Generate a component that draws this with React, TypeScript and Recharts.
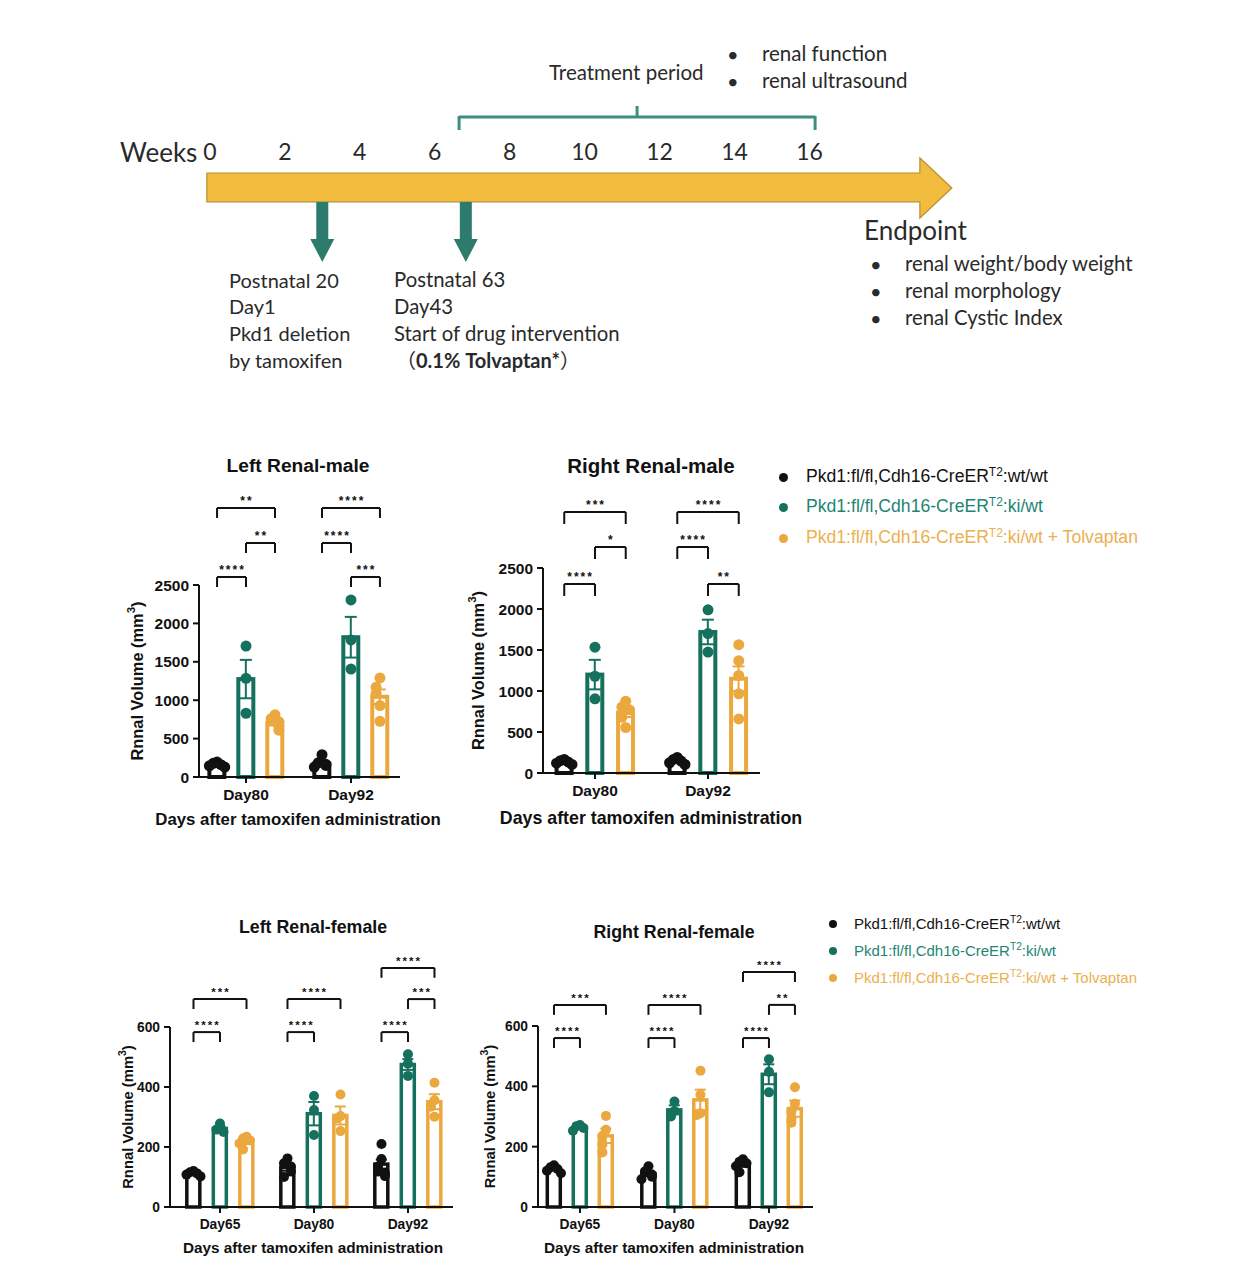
import React from "react";
import { Bar, ComposedChart, ErrorBar, ReferenceArea, ReferenceLine, Scatter, XAxis, YAxis } from "recharts";

const ARIAL = '"Liberation Sans", Arial, Helvetica, sans-serif';
const LATO = 'Lato, "Open Sans", "Noto Sans CJK SC", sans-serif';

const INK = "#111111";
const TEAL = "#15705E";
const GOLD = "#EBA83E";
const groupColors = [INK, TEAL, GOLD];
const legendColors = ["#111111", "#1E8573", "#EBB04F"];

// ---- timeline ----
const weekTicks = [0, 2, 4, 6, 8, 10, 12, 14, 16];
const arrowWeeks = [-0.08, 19.8];
const dropWeeks = [3.0, 6.83];
const treatmentWeeks = [6.65, 16.15];
const monitorItems = ["renal function", "renal ultrasound"];
const endpointItems = ["renal weight/body weight", "renal morphology", "renal Cystic Index"];
const deletionLines = ["Postnatal 20", "Day1", "Pkd1 deletion", "by tamoxifen"];
const drugLines = ["Postnatal 63", "Day43", "Start of drug intervention"];

// ---- groups ----
const groupSuffix = [":wt/wt", ":ki/wt", ":ki/wt + Tolvaptan"];
const maleDays = ["Day80", "Day92"];
const femaleDays = ["Day65", "Day80", "Day92"];

// rows: wt/wt, ki/wt, ki/wt + Tolvaptan ; columns: days
// Left Renal-male
const lmMean = [[160, 175], [1275, 1820], [705, 1045]];
const lmSem = [[12, 28], [250, 265], [35, 95]];
const lmDots = [
  [[195, 178, 160, 145, 130], [290, 185, 165, 150, 130]],
  [[1705, 1285, 830], [2305, 1785, 1405]],
  [[810, 760, 720, 660, 610], [1290, 1170, 1090, 930, 725]],
];
const lmStars = [[0, 0, 1, 0, "****"], [0, 1, 2, 1, "**"], [0, 0, 2, 2, "**"], [1, 1, 2, 0, "***"], [1, 0, 1, 1, "****"], [1, 0, 2, 2, "****"]];
const lmLevels = [2604, 3047, 3503];

// Right Renal-male
const rmMean = [[130, 145], [1200, 1720], [737, 1150]];
const rmSem = [[10, 15], [180, 150], [55, 150]];
const rmDots = [
  [[165, 150, 135, 120, 105], [190, 165, 145, 125, 105]],
  [[1535, 1180, 905], [1990, 1700, 1475]],
  [[875, 805, 770, 680, 555], [1565, 1370, 1190, 965, 660]],
];
const rmStars = [[0, 0, 1, 0, "****"], [0, 1, 2, 1, "*"], [0, 0, 2, 2, "***"], [1, 1, 2, 0, "**"], [1, 0, 1, 1, "****"], [1, 0, 2, 2, "****"]];
const rmLevels = [2305, 2756, 3183];

// Left Renal-female
const lfMean = [[112, 132, 143], [262, 311, 475], [218, 305, 351]];
const lfSem = [[4, 11, 15], [8, 39, 18], [8, 30, 25]];
const lfDots = [
  [[120, 116, 112, 108, 102], [162, 146, 135, 118, 100], [210, 160, 135, 118, 113, 103]],
  [[278, 258, 250], [370, 323, 240], [509, 478, 437]],
  [[234, 228, 222, 212, 192], [375, 303, 296, 253], [414, 356, 334, 301]],
];
const lfStars = [[0, 0, 1, 0, "****"], [0, 0, 2, 1, "***"], [1, 0, 1, 0, "****"], [1, 0, 2, 1, "****"], [2, 0, 1, 0, "****"], [2, 1, 2, 1, "***"], [2, 0, 2, 2, "****"]];
const lfLevels = [583, 693, 797];

// Right Renal-female
const rfMean = [[125, 110, 141], [264, 322, 440], [236, 355, 326]];
const rfSem = [[4, 8, 8], [5, 15, 33], [24, 34, 27]];
const rfDots = [
  [[138, 132, 126, 120, 112], [135, 118, 108, 100, 92], [158, 150, 145, 135, 115]],
  [[272, 268, 262, 253], [350, 318, 300], [490, 448, 380]],
  [[302, 256, 236, 207, 181], [452, 372, 311, 305], [397, 342, 317, 290, 279]],
];
const rfStars = [[0, 0, 1, 0, "****"], [0, 0, 2, 1, "***"], [1, 0, 1, 0, "****"], [1, 0, 2, 1, "****"], [2, 0, 1, 0, "****"], [2, 1, 2, 1, "**"], [2, 0, 2, 2, "****"]];
const rfLevels = [560, 670, 779];

function Txt({ x, cy, size, children, weight = 400, color = "#2a2a2a", family = LATO }: any) {
  return (
    <div style={{ position: "absolute", left: x, top: cy - size * 0.62, fontFamily: family, fontSize: size, lineHeight: `${size * 1.24}px`, fontWeight: weight, color, whiteSpace: "nowrap" }}>
      {children}
    </div>
  );
}

const ArrowBody = (p: any) => {
  const { x, y, width: w, height: h } = p;
  const head = 32;
  const bt = y + h * 0.25;
  const bb = y + h * 0.73;
  const d = `M${x},${bt} L${x + w - head},${bt} L${x + w - head},${y} L${x + w},${y + h / 2} L${x + w - head},${y + h} L${x + w - head},${bb} L${x},${bb} Z`;
  return <path d={d} fill="#F2BC3E" stroke="#B8902F" strokeWidth={1.2} />;
};

const DropArrow = (p: any) => {
  const { x1, y1, y2 } = p;
  const ys = y2 - 23;
  const d = `M${x1 - 6},${y1} L${x1 + 6},${y1} L${x1 + 6},${ys} L${x1 + 12},${ys} L${x1},${y2} L${x1 - 12},${ys} L${x1 - 6},${ys} Z`;
  return <path d={d} fill="#2C7B6C" />;
};

const WeekTick = (p: any) => (
  <text x={p.x} y={160} textAnchor="middle" fontFamily={LATO} fontSize={23} fill="#2a2a2a">{p.payload.value}</text>
);

function Timeline() {
  const mid = (treatmentWeeks[0] + treatmentWeeks[1]) / 2;
  const bracket = { stroke: "#3E8E80", strokeWidth: 3, ifOverflow: "visible" as const };
  return (
    <div style={{ position: "absolute", left: 0, top: 0 }}>
      <ComposedChart width={1256} height={400} data={weekTicks.map((w) => ({ w }))} margin={{ top: 0, right: 0, bottom: 0, left: 0 }}>
        <XAxis type="number" dataKey="w" orientation="top" domain={[-5.6, 27.915]} allowDataOverflow ticks={weekTicks} interval={0} height={20} axisLine={false} tickLine={false} tick={WeekTick} />
        <YAxis type="number" hide domain={[20, 400]} reversed allowDataOverflow />
        <ReferenceArea x1={arrowWeeks[0]} x2={arrowWeeks[1]} y1={158} y2={218} ifOverflow="visible" shape={ArrowBody} />
        {dropWeeks.map((w) => (
          <ReferenceLine key={w} segment={[{ x: w, y: 202 }, { x: w, y: 262 }]} ifOverflow="visible" shape={DropArrow} />
        ))}
        <ReferenceLine segment={[{ x: treatmentWeeks[0], y: 117 }, { x: treatmentWeeks[1], y: 117 }]} {...bracket} />
        <ReferenceLine segment={[{ x: treatmentWeeks[0], y: 116 }, { x: treatmentWeeks[0], y: 130 }]} {...bracket} />
        <ReferenceLine segment={[{ x: treatmentWeeks[1], y: 116 }, { x: treatmentWeeks[1], y: 130 }]} {...bracket} />
        <ReferenceLine segment={[{ x: mid, y: 106 }, { x: mid, y: 118 }]} {...bracket} />
      </ComposedChart>
      <Txt x={120} cy={152} size={26}>Weeks</Txt>
      <Txt x={549} cy={73} size={20.5}>Treatment period</Txt>
      {monitorItems.map((t, i) => (
        <React.Fragment key={t}>
          <Txt x={727} cy={54 + i * 27} size={20}>•</Txt>
          <Txt x={762} cy={54 + i * 27} size={20.5}>{t}</Txt>
        </React.Fragment>
      ))}
      <Txt x={864} cy={230} size={26}>Endpoint</Txt>
      {endpointItems.map((t, i) => (
        <React.Fragment key={t}>
          <Txt x={870} cy={264 + i * 27} size={20}>•</Txt>
          <Txt x={905} cy={264 + i * 27} size={20.3}>{t}</Txt>
        </React.Fragment>
      ))}
      {deletionLines.map((t, i) => (
        <Txt key={t} x={229} cy={280 + i * 26.7} size={20}>{t}</Txt>
      ))}
      {drugLines.map((t, i) => (
        <Txt key={t} x={394} cy={280 + i * 26.7} size={20.3}>{t}</Txt>
      ))}
      <Txt x={396} cy={360} size={20}>（<b>0.1% Tolvaptan*</b>）</Txt>
    </div>
  );
}

type PanelCfg = {
  plot: { left: number; right: number; top: number; bottom: number };
  xDomain: [number, number];
  yTicks: number[];
  days: string[];
  mean: number[][];
  sem: number[][];
  dots: number[][][];
  stars: (number | string)[][];
  levels: number[];
  leg: number;
  gap: number;
  barSize: number;
  barStroke: number;
  dotR: number;
  cap: number;
  tickFont: number;
  title: string;
  titleX: number;
  titleY: number;
  titleSize: number;
  xTitleY: number;
  xTitleSize: number;
  yTitleX: number;
  yTitleSize: number;
  starSize: number;
};

function RenalPanel(c: PanelCfg) {
  const padL = 110, padT = 170, padR = 20, padB = 40;
  const boxLeft = c.plot.left - padL;
  const boxTop = c.plot.top - padT;
  const width = c.plot.right - c.plot.left + padL + padR;
  const height = c.plot.bottom - c.plot.top + padT + padB;
  const yTop = c.yTicks[c.yTicks.length - 1];
  const pxPerX = (c.plot.right - c.plot.left) / (c.xDomain[1] - c.xDomain[0]);
  const pxPerY = (c.plot.bottom - c.plot.top) / yTop;
  const barX = (d: number, g: number) => d + 1 + (g - 1) * c.gap;

  const rows = c.days.flatMap((_, d) =>
    [0, 1, 2].map((g) => ({ x: barX(d, g), y: c.mean[g][d], g, [`e${g}`]: c.sem[g][d] }))
  );
  // spread only the dots that would overlap, the way a scatter dot plot does
  const dotSets = [0, 1, 2].map((g) =>
    c.days.flatMap((_, d) => {
      const vals = c.dots[g][d];
      return vals.map((v, i) => {
        const k = vals.slice(0, i).filter((u) => Math.abs(u - v) * pxPerY < c.dotR * 1.8).length;
        const shift = k === 0 ? 0 : (k % 2 ? -1 : 1) * Math.ceil(k / 2) * c.dotR * 0.7;
        return { x: barX(d, g) + shift / pxPerX, y: v };
      });
    })
  );
  const yTitleCx = c.yTitleX - boxLeft;
  const yTitleCy = (c.plot.top + c.plot.bottom) / 2 - boxTop;
  const line = { stroke: INK, strokeWidth: 2, ifOverflow: "visible" as const };

  const OpenBar = (p: any) => {
    const cx = p.x + (p.width || 0) / 2;
    const color = groupColors[p.payload?.g ?? 0];
    return (
      <rect x={cx - c.barSize / 2} y={p.y} width={c.barSize} height={Math.max(p.height, 0)} fill="#ffffff" stroke={color} strokeWidth={c.barStroke} />
    );
  };

  return (
    <>
      <div style={{ position: "absolute", left: c.titleX, top: c.titleY, transform: "translate(-50%, -50%)", fontFamily: ARIAL, fontWeight: 700, fontSize: c.titleSize, color: INK, whiteSpace: "nowrap" }}>
        {c.title}
      </div>
      <div style={{ position: "absolute", left: c.titleX, top: c.xTitleY, transform: "translate(-50%, -50%)", fontFamily: ARIAL, fontWeight: 700, fontSize: c.xTitleSize, color: INK, whiteSpace: "nowrap" }}>
        Days after tamoxifen administration
      </div>
      <div style={{ position: "absolute", left: boxLeft, top: boxTop }}>
        <ComposedChart width={width} height={height} data={rows} margin={{ top: padT, right: padR, bottom: 0, left: padL - 60 }}>
          <XAxis
            type="number"
            dataKey="x"
            domain={c.xDomain}
            allowDataOverflow
            ticks={c.days.map((_, i) => i + 1)}
            interval={0}
            tickFormatter={(v: number) => c.days[v - 1]}
            height={padB}
            axisLine={{ stroke: INK, strokeWidth: 2 }}
            tickLine={{ stroke: INK, strokeWidth: 2 }}
            tickSize={6}
            tickMargin={6}
            tick={{ fill: INK, fontSize: c.tickFont, fontWeight: 700, fontFamily: ARIAL }}
          />
          <YAxis
            type="number"
            domain={[0, yTop]}
            ticks={c.yTicks}
            interval={0}
            width={60}
            axisLine={{ stroke: INK, strokeWidth: 2 }}
            tickLine={{ stroke: INK, strokeWidth: 2 }}
            tickSize={6}
            tickMargin={4}
            tick={{ fill: INK, fontSize: c.tickFont, fontWeight: 700, fontFamily: ARIAL }}
            label={{
              content: () => (
                <text x={yTitleCx} y={yTitleCy} transform={`rotate(-90 ${yTitleCx} ${yTitleCy})`} textAnchor="middle" dominantBaseline="central" fontFamily={ARIAL} fontWeight={700} fontSize={c.yTitleSize} fill={INK}>
                  Rnnal Volume (mm<tspan baselineShift="super" fontSize="70%">3</tspan>)
                </text>
              ),
            }}
          />
          <Bar dataKey="y" barSize={c.barSize} isAnimationActive={false} shape={OpenBar}>
            {[0, 1, 2].map((g) => (
              <ErrorBar key={g} dataKey={`e${g}`} direction="y" width={c.cap} stroke={groupColors[g]} strokeWidth={2} isAnimationActive={false} />
            ))}
          </Bar>
          {dotSets.map((set, g) => (
            <Scatter
              key={g}
              data={set}
              dataKey="y"
              fill={groupColors[g]}
              isAnimationActive={false}
              shape={(p: any) => <circle cx={p.cx} cy={p.cy} r={c.dotR} fill={groupColors[g]} />}
            />
          ))}
          {c.stars.flatMap((s, k) => {
            const [d, g1, g2, lvl, txt] = s as [number, number, number, number, string];
            const xa = barX(d, g1);
            const xb = barX(d, g2);
            const yv = c.levels[lvl];
            const yl = yv - c.leg;
            return [
              <ReferenceLine
                key={`h${k}`}
                segment={[{ x: xa, y: yv }, { x: xb, y: yv }]}
                {...line}
                label={{
                  content: (p: any) => {
                    const vb = p.viewBox || { x: 0, y: 0, width: 0 };
                    return (
                      <text x={vb.x + vb.width / 2 + 1} y={vb.y - 3} textAnchor="middle" fontFamily={ARIAL} fontWeight={700} fontSize={c.starSize} letterSpacing={2} fill={INK}>
                        {txt}
                      </text>
                    );
                  },
                }}
              />,
              <ReferenceLine key={`a${k}`} segment={[{ x: xa, y: yv }, { x: xa, y: yl }]} {...line} />,
              <ReferenceLine key={`b${k}`} segment={[{ x: xb, y: yv }, { x: xb, y: yl }]} {...line} />,
            ];
          })}
        </ComposedChart>
      </div>
    </>
  );
}

function GroupLegend({ dotX, textX, rows, size, dot }: { dotX: number; textX: number; rows: number[]; size: number; dot: number }) {
  return (
    <>
      {groupSuffix.map((s, i) => (
        <React.Fragment key={s}>
          <div style={{ position: "absolute", left: dotX - dot / 2, top: rows[i] - dot / 2, width: dot, height: dot, borderRadius: "50%", background: groupColors[i] }} />
          <div style={{ position: "absolute", left: textX, top: rows[i] - size * 0.62, fontFamily: ARIAL, fontSize: size, lineHeight: `${size * 1.24}px`, color: legendColors[i], whiteSpace: "nowrap" }}>
            Pkd1:fl/fl,Cdh16-CreER<span style={{ fontSize: "0.68em", position: "relative", top: "-0.55em" }}>T2</span>{s}
          </div>
        </React.Fragment>
      ))}
    </>
  );
}

export default function App() {
  const male = { yTicks: [0, 500, 1000, 1500, 2000, 2500], days: maleDays, barSize: 15, barStroke: 4, dotR: 5.5, cap: 6, tickFont: 15.5, yTitleSize: 16.4, starSize: 12 };
  const female = { yTicks: [0, 200, 400, 600], days: femaleDays, barSize: 13, barStroke: 3.5, dotR: 5, cap: 5.5, tickFont: 13.8, yTitleSize: 14.8, starSize: 11.5 };
  return (
    <div style={{ position: "absolute", left: 0, top: 0, width: 1256, height: 1286, background: "#ffffff", overflow: "hidden" }}>
      <Timeline />
      <RenalPanel
        {...male}
        plot={{ left: 199, right: 400, top: 585, bottom: 777 }}
        xDomain={[0.552, 2.467]}
        gap={0.276}
        mean={lmMean}
        sem={lmSem}
        dots={lmDots}
        stars={lmStars}
        levels={lmLevels}
        leg={130}
        title="Left Renal-male"
        titleX={298}
        titleY={466}
        titleSize={19.2}
        xTitleY={820}
        xTitleSize={16.8}
        yTitleX={137}
      />
      <RenalPanel
        {...male}
        plot={{ left: 543, right: 760, top: 568, bottom: 773 }}
        xDomain={[0.54, 2.46]}
        gap={0.272}
        mean={rmMean}
        sem={rmSem}
        dots={rmDots}
        stars={rmStars}
        levels={rmLevels}
        leg={146}
        title="Right Renal-male"
        titleX={651}
        titleY={466}
        titleSize={20.5}
        xTitleY={818}
        xTitleSize={17.8}
        yTitleX={478}
      />
      <RenalPanel
        {...female}
        plot={{ left: 170, right: 453, top: 1027, bottom: 1207 }}
        xDomain={[0.468, 3.479]}
        gap={0.282}
        mean={lfMean}
        sem={lfSem}
        dots={lfDots}
        stars={lfStars}
        levels={lfLevels}
        leg={33}
        title="Left Renal-female"
        titleX={313}
        titleY={927}
        titleSize={17.8}
        xTitleY={1248}
        xTitleSize={15.3}
        yTitleX={128}
      />
      <RenalPanel
        {...female}
        plot={{ left: 538, right: 813, top: 1026, bottom: 1207 }}
        xDomain={[0.556, 3.466]}
        gap={0.275}
        mean={rfMean}
        sem={rfSem}
        dots={rfDots}
        stars={rfStars}
        levels={rfLevels}
        leg={33}
        title="Right Renal-female"
        titleX={674}
        titleY={932}
        titleSize={17.8}
        xTitleY={1248}
        xTitleSize={15.3}
        yTitleX={490}
      />
      <GroupLegend dotX={783} textX={806} rows={[477, 507, 538]} size={17.6} dot={9} />
      <GroupLegend dotX={833} textX={854} rows={[924, 951, 978]} size={15} dot={8} />
    </div>
  );
}
